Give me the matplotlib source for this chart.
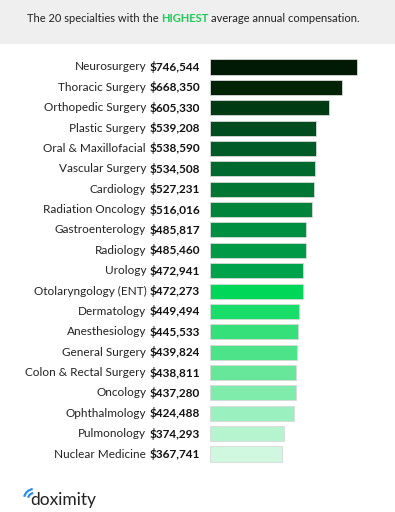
import matplotlib
matplotlib.use("Agg")
import matplotlib.pyplot as plt
from matplotlib.patches import Rectangle, Arc

specialties = ["Neurosurgery", "Thoracic Surgery", "Orthopedic Surgery", "Plastic Surgery",
               "Oral & Maxillofacial", "Vascular Surgery", "Cardiology", "Radiation Oncology",
               "Gastroenterology", "Radiology", "Urology", "Otolaryngology (ENT)",
               "Dermatology", "Anesthesiology", "General Surgery", "Colon & Rectal Surgery",
               "Oncology", "Ophthalmology", "Pulmonology", "Nuclear Medicine"]
compensation = [746544, 668350, 605330, 539208, 538590, 534508, 527231, 516016,
                485817, 485460, 472941, 472273, 449494, 445533, 439824, 438811,
                437280, 424488, 374293, 367741]
colors = ["#001a05", "#002306", "#003a12", "#004c1f", "#005b27", "#00692e", "#007635",
          "#00843c", "#008f41", "#009a47", "#00a24c", "#00d658", "#19dd69", "#35e07a",
          "#4de489", "#66e799", "#80ecab", "#9bf0bf", "#b5f4cf", "#d0f7e0"]

W, H = 395, 512
fig = plt.figure(figsize=(W / 100, H / 100), dpi=100)
fig.patch.set_facecolor("white")

# grey header band
fig.patches.append(Rectangle((0, 1 - 44 / H), 1, 44 / H, transform=fig.transFigure,
                             facecolor="#efefef", edgecolor="none", zorder=0))
font = "Lato"
ty = 1 - 18 / H
t1 = fig.text(27 / W, ty, "The 20 specialties with the ", fontsize=8.0,
              family=font, color="#222222", va="center", ha="left")
fig.canvas.draw()
r = fig.canvas.get_renderer()
bb = t1.get_window_extent(r)
t2 = fig.text(bb.x1 / W, ty, "HIGHEST", fontsize=8.0, family=font,
              color="#22c95a", va="center", ha="left", weight="bold")
bb2 = t2.get_window_extent(r)
fig.text(bb2.x1 / W + 0.006, ty, "average annual compensation.", fontsize=8.0,
         family=font, color="#222222", va="center", ha="left")

ax = fig.add_axes([210 / W, 1 - 464.2 / H, (W - 210) / W, 407.4 / H])
y = list(range(len(specialties)))
ax.barh(y, compensation, height=0.74, color=colors, edgecolor="#d8d8d8", linewidth=0.6)
ax.set_xlim(0, 746544 * (W - 210) / 147)
ax.set_ylim(19.5, -0.5)
ax.axis("off")

fig.canvas.draw()
r = fig.canvas.get_renderer()
for i, (name, val) in enumerate(zip(specialties, compensation)):
    vt = ax.annotate(f"${val:,}", xy=(0, i), xytext=(-10, 0), textcoords="offset pixels",
                     ha="right", va="center", fontsize=8.5, family=font, weight="bold",
                     color="#111111")
    vb = vt.get_window_extent(r)
    ax.annotate(name, xy=(0, i), xytext=(vb.x0 - 210 - 3.5, 0), textcoords="offset pixels",
                ha="right", va="center", fontsize=8.5, family=font, color="#222222")

# doximity logo
fig.text(30 / W, 1 - 500 / H, "doximity", fontsize=12.5, family=font, color="#222222",
         va="center", ha="left")
for rad in (6, 10):
    fig.patches.append(Arc((34 / W, 1 - 499 / H), rad * 2 / W, rad * 2 / H, theta1=100,
                           theta2=170, transform=fig.transFigure, color="#2a8ee8", lw=1.6))

fig.savefig("out.png", dpi=100, facecolor="white")
